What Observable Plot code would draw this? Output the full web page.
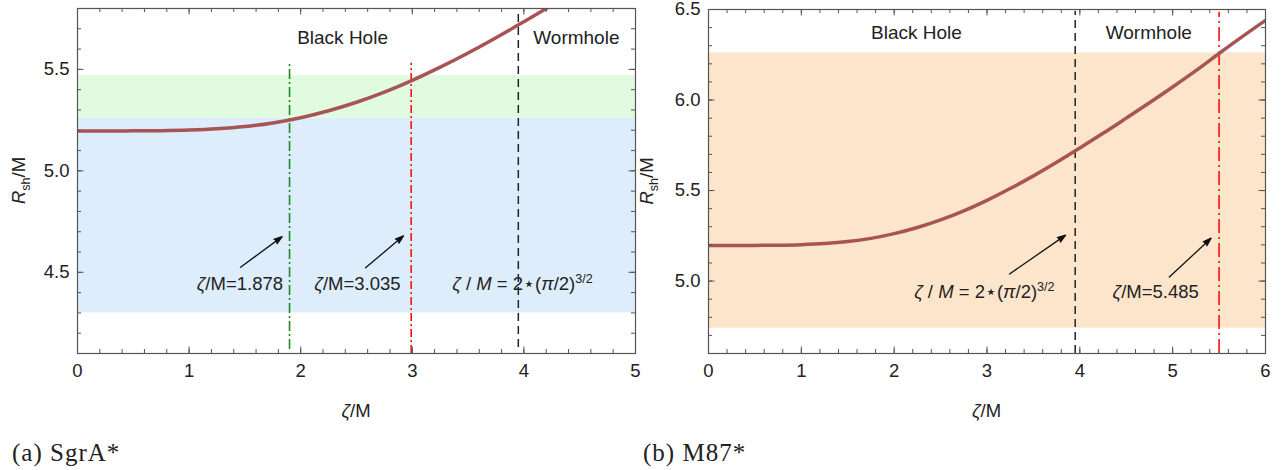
<!DOCTYPE html>
<html><head><meta charset="utf-8">
<script src="https://cdn.jsdelivr.net/npm/d3@7"></script>
<script src="https://cdn.jsdelivr.net/npm/@observablehq/plot@0.6"></script>
<style>
body{margin:0;background:#fff;}
#wrap{position:relative;width:1286px;height:470px;overflow:hidden;background:#fff;}
.panel{position:absolute;top:0;}
.cap{position:absolute;top:441px;line-height:24px;font-family:"Liberation Serif","Times New Roman",serif;font-size:25px;letter-spacing:1px;color:#222;white-space:nowrap;}
</style></head>
<body>
<div id="wrap">
  <div id="pa" class="panel" style="left:0px"></div>
  <div id="pb" class="panel" style="left:641px"></div>
  <div class="cap" style="left:12px">(a) SgrA*</div>
  <div class="cap" style="left:643px">(b) M87*</div>
</div>
<script>
// ---------- shared curve: R_sh/M vs zeta/M ----------
const zeta = [0,0.25,0.5,0.75,1,1.25,1.5,1.75,2,2.25,2.5,2.75,3,3.25,3.5,3.75,4,4.25,4.5,4.75,5,5.25,5.5,5.75,6];
const rsh  = [5.196,5.196,5.197,5.198,5.201,5.207,5.218,5.236,5.262,5.296,5.338,5.388,5.446,5.511,5.581,5.656,5.735,5.816,5.900,5.985,6.072,6.162,6.257,6.350,6.440];

// ---------- panel (a) SgrA* ----------
const aXDomain = [0, 5];
const aYDomain = [4.1, 5.8];
const aXTicks = [0, 1, 2, 3, 4, 5];
const aYTicks = [4.5, 5.0, 5.5];
const aBandLow = [4.30, 5.26];   // blue band
const aBandHigh = [5.26, 5.47];  // green band
const aMarkX  = [1.90, 2.99, 3.95];   // green, red, black
const aMarkY1 = [4.12, 4.10, 4.13];
const aMarkY2 = [5.53, 5.53, 5.80];
const aRegionLabels = ["Black Hole", "Wormhole"];
const aRegionX = [2.375, 4.47];
const aRegionY = [5.657, 5.657];
const aArrowX1 = [1.461, 2.581];
const aArrowY1 = [4.525, 4.522];
const aArrowX2 = [1.834, 2.921];
const aArrowY2 = [4.676, 4.680];
const aAnnText = ["/M=1.878", "/M=3.035", "math"];
const aAnnX = [1.846, 2.513, 3.992];
const aAnnAnchor = ["end", "middle", "middle"];
const aAnnY = [4.443, 4.443, 4.443];

// ---------- panel (b) M87* ----------
const bXDomain = [0, 6];
const bYDomain = [4.6, 6.5];
const bXTicks = [0, 1, 2, 3, 4, 5, 6];
const bYTicks = [5.0, 5.5, 6.0, 6.5];
const bBand = [4.74, 6.26];  // orange band
const bMarkX  = [3.95, 5.50];   // black, red
const bMarkY1 = [4.60, 4.60];
const bMarkY2 = [6.49, 6.485];
const bRegionLabels = ["Black Hole", "Wormhole"];
const bRegionX = [2.24, 4.743];
const bRegionY = [6.368, 6.368];
const bArrowX1 = [3.243, 4.964];
const bArrowY1 = [5.039, 5.022];
const bArrowX2 = [3.847, 5.414];
const bArrowY2 = [5.254, 5.237];
const bAnnText = ["math", "/M=5.485"];
const bAnnX = [2.977, 4.823];
const bAnnY = [4.937, 4.937];

const FONT = '"Liberation Sans", Arial, Helvetica, sans-serif';
const curve = zeta.map((z, i) => ({z, r: rsh[i]}));
const idx = n => d3.range(n);

function frameTicks(xMajor, xMinor, yMajor, yMinor, fw, fh) {
  const c = "#555";
  const L = 6.5, S = 4;
  return [
    Plot.ruleX(xMajor, {stroke: c, insetTop: fh - L}),
    Plot.ruleX(xMajor, {stroke: c, insetBottom: fh - L}),
    Plot.ruleX(xMinor, {stroke: c, insetTop: fh - S}),
    Plot.ruleX(xMinor, {stroke: c, insetBottom: fh - S}),
    Plot.ruleY(yMajor, {stroke: c, insetRight: fw - L}),
    Plot.ruleY(yMajor, {stroke: c, insetLeft: fw - L}),
    Plot.ruleY(yMinor, {stroke: c, insetRight: fw - S}),
    Plot.ruleY(yMinor, {stroke: c, insetLeft: fw - S}),
    Plot.frame({stroke: c, strokeWidth: 1.2})
  ];
}

function rich(svg, px, py, parts, {anchor = "middle", size = 18.5, rotate = 0, dy = "0.35em"} = {}) {
  const t = d3.select(svg).append("text")
    .attr("text-anchor", anchor).attr("font-size", size).attr("fill", "#222")
    .attr("font-family", FONT);
  if (rotate) t.attr("transform", `translate(${px},${py}) rotate(${rotate})`);
  else t.attr("x", px).attr("y", py).attr("dy", dy);
  let shift = 0;
  for (const p of parts) {
    const target = p.sup ? -7 : p.sub ? 4.5 : 0;
    const ts = t.append("tspan").text(p.t);
    if (p.i) ts.attr("font-style", "italic");
    if (p.sup || p.sub) ts.attr("font-size", size * 0.68);
    if (target !== shift) { ts.attr("dy", target - shift); shift = target; }
  }
  return t;
}
const mathParts = [{t: "ζ", i: 1}, {t: " / "}, {t: "M", i: 1}, {t: " = 2"}, {t: "\u22C6"}, {t: "("}, {t: "π", i: 1}, {t: "/2)"}, {t: "3/2", sup: 1}];
const annParts = s => s === "math" ? mathParts : [{t: "ζ", i: 1}, {t: s}];

function decorate(svg, xAxisBaseline, yLabelX) {
  const x = svg.scale("x"), y = svg.scale("y");
  const [x0, x1] = x.range, [y0, y1] = y.range;
  rich(svg, (x0 + x1) / 2, xAxisBaseline, [{t: "ζ", i: 1}, {t: "/M"}], {dy: 0});
  rich(svg, yLabelX, (y0 + y1) / 2, [{t: "R", i: 1}, {t: "sh", sub: 1}, {t: "/M"}], {rotate: -90});
}

// ---------- build panel (a) ----------
{
  const W = 641, H = 430, mL = 77, mR = 6, mT = 8, mB = 77;
  const fw = W - mL - mR, fh = H - mT - mB;
  const svg = Plot.plot({
    width: W, height: H, marginLeft: mL, marginRight: mR, marginTop: mT, marginBottom: mB,
    x: {domain: aXDomain}, y: {domain: aYDomain},
    style: {fontFamily: FONT, fontSize: "18.5px", color: "#222", background: "white", overflow: "visible"},
    marks: [
      Plot.rect([0], {x1: aXDomain[0], x2: aXDomain[1], y1: aBandLow[0], y2: aBandLow[1], fill: "#ddedfc"}),
      Plot.rect([0], {x1: aXDomain[0], x2: aXDomain[1], y1: aBandHigh[0], y2: aBandHigh[1], fill: "#e0fbe0"}),
      Plot.ruleX([0], {x: i => aMarkX[i], y1: i => aMarkY1[i], y2: i => aMarkY2[i], stroke: "#1f8a1f", strokeWidth: 1.6, strokeDasharray: "10,3,2,3"}),
      Plot.ruleX([1], {x: i => aMarkX[i], y1: i => aMarkY1[i], y2: i => aMarkY2[i], stroke: "#ff1010", strokeWidth: 1.6, strokeDasharray: "8,3,2,3"}),
      Plot.ruleX([2], {x: i => aMarkX[i], y1: i => aMarkY1[i], y2: i => aMarkY2[i], stroke: "#222", strokeWidth: 1.5, strokeDasharray: "8,5"}),
      Plot.line(curve, {x: "z", y: "r", stroke: "#a85454", strokeWidth: 3.5, curve: "catmull-rom", clip: true}),
      Plot.arrow(idx(aArrowX1.length), {x1: i => aArrowX1[i], y1: i => aArrowY1[i], x2: i => aArrowX2[i], y2: i => aArrowY2[i], stroke: "#111", fill: "#111", strokeWidth: 1.3, headLength: 10, headAngle: 36}),
      Plot.text(idx(aRegionLabels.length), {x: i => aRegionX[i], y: i => aRegionY[i], text: i => aRegionLabels[i], fontSize: 19, fill: "#222"}),
      ...frameTicks(aXTicks, d3.range(0, 5.01, 0.2), aYTicks, d3.range(4.1, 5.81, 0.1), fw, fh),
      Plot.axisX({ticks: aXTicks, tickSize: 0, tickPadding: 10, tickFormat: d3.format("d"), label: null}),
      Plot.axisY({ticks: aYTicks, tickSize: 0, tickPadding: 8, tickFormat: d3.format(".1f"), label: null})
    ]
  });
  const x = svg.scale("x"), y = svg.scale("y");
  aAnnText.forEach((s, i) => rich(svg, x.apply(aAnnX[i]), y.apply(aAnnY[i]), annParts(s), {anchor: aAnnAnchor[i]}));
  decorate(svg, 417, 25);
  document.getElementById("pa").appendChild(svg);
}

// ---------- build panel (b) ----------
{
  const W = 645, H = 430, mL = 67, mR = 21, mT = 9, mB = 77;
  const fw = W - mL - mR, fh = H - mT - mB;
  const svg = Plot.plot({
    width: W, height: H, marginLeft: mL, marginRight: mR, marginTop: mT, marginBottom: mB,
    x: {domain: bXDomain}, y: {domain: bYDomain},
    style: {fontFamily: FONT, fontSize: "18.5px", color: "#222", background: "white", overflow: "visible"},
    marks: [
      Plot.rect([0], {x1: bXDomain[0], x2: bXDomain[1], y1: bBand[0], y2: bBand[1], fill: "#fde5cc"}),
      Plot.ruleX([0], {x: i => bMarkX[i], y1: i => bMarkY1[i], y2: i => bMarkY2[i], stroke: "#222", strokeWidth: 1.5, strokeDasharray: "8,5"}),
      Plot.ruleX([1], {x: i => bMarkX[i], y1: i => bMarkY1[i], y2: i => bMarkY2[i], stroke: "#ff1010", strokeWidth: 1.6, strokeDasharray: "14,4,2,4"}),
      Plot.line(curve, {x: "z", y: "r", stroke: "#a85454", strokeWidth: 3.5, curve: "catmull-rom", clip: true}),
      Plot.arrow(idx(bArrowX1.length), {x1: i => bArrowX1[i], y1: i => bArrowY1[i], x2: i => bArrowX2[i], y2: i => bArrowY2[i], stroke: "#111", fill: "#111", strokeWidth: 1.3, headLength: 10, headAngle: 36}),
      Plot.text(idx(bRegionLabels.length), {x: i => bRegionX[i], y: i => bRegionY[i], text: i => bRegionLabels[i], fontSize: 19, fill: "#222"}),
      ...frameTicks(bXTicks, d3.range(0, 6.01, 0.2), bYTicks, d3.range(4.6, 6.51, 0.1), fw, fh),
      Plot.axisX({ticks: bXTicks, tickSize: 0, tickPadding: 10, tickFormat: d3.format("d"), label: null}),
      Plot.axisY({ticks: bYTicks, tickSize: 0, tickPadding: 8, tickFormat: d3.format(".1f"), label: null})
    ]
  });
  const x = svg.scale("x"), y = svg.scale("y");
  bAnnText.forEach((s, i) => rich(svg, x.apply(bAnnX[i]), y.apply(bAnnY[i]), annParts(s), {anchor: "middle"}));
  decorate(svg, 417, 12);
  document.getElementById("pb").appendChild(svg);
}
</script>
</body></html>
